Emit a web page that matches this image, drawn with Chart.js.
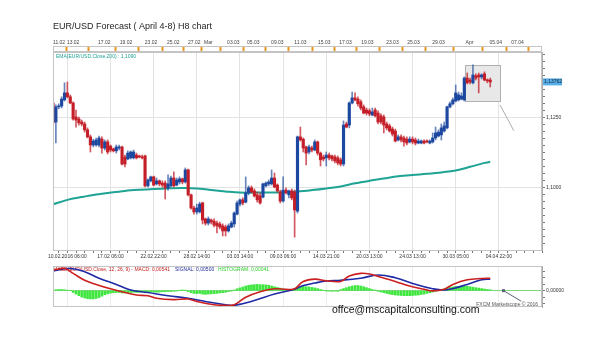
<!DOCTYPE html>
<html>
<head>
<meta charset="utf-8">
<title>EUR/USD Forecast H8</title>
<script src="https://cdn.jsdelivr.net/npm/chart.js@4.4.1/dist/chart.umd.min.js"></script>
<style>
  html, body { margin: 0; padding: 0; background: #fff; }
  body { width: 600px; height: 354px; position: relative; overflow: hidden; }
  canvas { position: absolute; left: 0; }
  #price { top: 0; }
  #macd { top: 262px; }
</style>
</head>
<body>
<canvas id="price" width="600" height="262"></canvas>
<canvas id="macd" width="600" height="92"></canvas>
<script>
// candles are numbered from firstCandle, one step per H8 bar
const firstCandle = -5;
const openPrices = [
  1.1301, 1.1233, 1.1287, 1.1290, 1.1312, 1.1337, 1.1323, 1.1301, 1.1251, 1.1244,
  1.1233, 1.1226, 1.1205, 1.1180, 1.1151, 1.1151, 1.1151, 1.1172, 1.1140, 1.1162,
  1.1147, 1.1137, 1.1130, 1.1140, 1.1144, 1.1108, 1.1101, 1.1105, 1.1105, 1.1115,
  1.1112, 1.1108, 1.1112, 1.1005, 1.1023, 1.1037, 1.1012, 1.1023, 1.1015, 1.1015,
  1.0998, 1.1005, 1.1033, 1.1008, 1.1019, 1.1030, 1.1019, 1.1062, 1.0973, 1.0926,
  1.0912, 1.0912, 1.0944, 1.0887, 1.0872, 1.0883, 1.0879, 1.0872, 1.0869, 1.0862,
  1.0858, 1.0844, 1.0858, 1.0869, 1.0904, 1.0940, 1.0955, 1.0947, 1.0980, 1.0998,
  1.0987, 1.0973, 1.0969, 1.0965, 1.1005, 1.1012, 1.1012, 1.1033, 1.1008, 1.0983,
  1.0951, 1.0990, 1.0973, 1.0987, 1.0983, 1.0915, 1.1180, 1.1172, 1.1144, 1.1126,
  1.1140, 1.1133, 1.1162, 1.1122, 1.1108, 1.1105, 1.1115, 1.1112, 1.1108, 1.1105,
  1.1098, 1.1083, 1.1226, 1.1222, 1.1301, 1.1319, 1.1315, 1.1305, 1.1287, 1.1276,
  1.1273, 1.1258, 1.1276, 1.1265, 1.1255, 1.1251, 1.1226, 1.1219, 1.1208, 1.1201,
  1.1169, 1.1180, 1.1176, 1.1172, 1.1162, 1.1172, 1.1169, 1.1158, 1.1158, 1.1165,
  1.1165, 1.1158, 1.1162, 1.1176, 1.1183, 1.1187, 1.1201, 1.1212, 1.1287, 1.1298,
  1.1308, 1.1312, 1.1315, 1.1312, 1.1390, 1.1383, 1.1373, 1.1398, 1.1401, 1.1394,
  1.1405, 1.1383, 1.1383
];
const highPrices = [
  1.1312, 1.1294, 1.1298, 1.1323, 1.1373, 1.1376, 1.1330, 1.1305, 1.1276, 1.1251,
  1.1240, 1.1233, 1.1212, 1.1187, 1.1172, 1.1176, 1.1183, 1.1180, 1.1169, 1.1169,
  1.1151, 1.1140, 1.1151, 1.1151, 1.1147, 1.1115, 1.1130, 1.1130, 1.1133, 1.1122,
  1.1115, 1.1115, 1.1115, 1.1030, 1.1040, 1.1040, 1.1033, 1.1026, 1.1023, 1.1023,
  1.1044, 1.1040, 1.1055, 1.1033, 1.1037, 1.1033, 1.1069, 1.1065, 1.0976, 1.0933,
  1.0940, 1.0947, 1.0947, 1.0890, 1.0894, 1.0887, 1.0887, 1.0879, 1.0876, 1.0869,
  1.0865, 1.0869, 1.0879, 1.0912, 1.0951, 1.0958, 1.0962, 1.1037, 1.1005, 1.1005,
  1.0994, 1.0983, 1.0980, 1.1015, 1.1019, 1.1026, 1.1062, 1.1051, 1.1012, 1.0990,
  1.1037, 1.0998, 1.0990, 1.0994, 1.0990, 1.1183, 1.1215, 1.1176, 1.1147, 1.1151,
  1.1147, 1.1169, 1.1165, 1.1126, 1.1115, 1.1126, 1.1122, 1.1115, 1.1115, 1.1112,
  1.1105, 1.1237, 1.1233, 1.1305, 1.1340, 1.1337, 1.1323, 1.1312, 1.1294, 1.1283,
  1.1280, 1.1283, 1.1283, 1.1273, 1.1262, 1.1258, 1.1233, 1.1226, 1.1215, 1.1208,
  1.1187, 1.1187, 1.1183, 1.1180, 1.1180, 1.1180, 1.1176, 1.1172, 1.1169, 1.1169,
  1.1169, 1.1169, 1.1194, 1.1215, 1.1205, 1.1226, 1.1233, 1.1290, 1.1305, 1.1319,
  1.1365, 1.1340, 1.1337, 1.1394, 1.1408, 1.1390, 1.1437, 1.1405, 1.1408, 1.1405,
  1.1412, 1.1387, 1.1390
];
const lowPrices = [
  1.1226, 1.1158, 1.1280, 1.1283, 1.1308, 1.1319, 1.1298, 1.1240, 1.1215, 1.1222,
  1.1219, 1.1197, 1.1176, 1.1126, 1.1144, 1.1147, 1.1144, 1.1122, 1.1133, 1.1119,
  1.1126, 1.1126, 1.1122, 1.1133, 1.1080, 1.1073, 1.1098, 1.1101, 1.1101, 1.1101,
  1.1105, 1.1101, 1.1001, 1.1001, 1.1019, 1.1005, 1.1008, 1.1005, 1.1001, 1.0958,
  1.0990, 1.1001, 1.1001, 1.1005, 1.1012, 1.1012, 1.1015, 1.0969, 1.0922, 1.0904,
  1.0904, 1.0908, 1.0869, 1.0865, 1.0865, 1.0869, 1.0858, 1.0837, 1.0851, 1.0826,
  1.0826, 1.0840, 1.0855, 1.0858, 1.0901, 1.0933, 1.0937, 1.0944, 1.0973, 1.0980,
  1.0965, 1.0947, 1.0940, 1.0962, 1.1001, 1.1005, 1.1008, 1.0998, 1.0983, 1.0944,
  1.0947, 1.0976, 1.0962, 1.0955, 1.0822, 1.0908, 1.1165, 1.1126, 1.1080, 1.1119,
  1.1126, 1.1130, 1.1115, 1.1076, 1.1094, 1.1076, 1.1098, 1.1094, 1.1087, 1.1080,
  1.1076, 1.1076, 1.1212, 1.1212, 1.1298, 1.1308, 1.1290, 1.1276, 1.1262, 1.1258,
  1.1255, 1.1255, 1.1251, 1.1226, 1.1226, 1.1194, 1.1205, 1.1197, 1.1183, 1.1162,
  1.1165, 1.1162, 1.1147, 1.1151, 1.1158, 1.1155, 1.1151, 1.1155, 1.1155, 1.1155,
  1.1158, 1.1155, 1.1158, 1.1169, 1.1180, 1.1169, 1.1197, 1.1208, 1.1283, 1.1294,
  1.1305, 1.1308, 1.1312, 1.1308, 1.1369, 1.1369, 1.1369, 1.1383, 1.1337, 1.1387,
  1.1380, 1.1373, 1.1358
];
const closePrices = [
  1.1230, 1.1287, 1.1290, 1.1315, 1.1337, 1.1323, 1.1301, 1.1244, 1.1240, 1.1230,
  1.1226, 1.1205, 1.1180, 1.1151, 1.1165, 1.1169, 1.1176, 1.1140, 1.1162, 1.1126,
  1.1133, 1.1130, 1.1144, 1.1144, 1.1083, 1.1083, 1.1122, 1.1126, 1.1126, 1.1105,
  1.1108, 1.1105, 1.1005, 1.1026, 1.1037, 1.1008, 1.1023, 1.1012, 1.1008, 1.0998,
  1.1012, 1.1033, 1.1005, 1.1026, 1.1030, 1.1019, 1.1062, 1.0973, 1.0926, 1.0912,
  1.0926, 1.0940, 1.0883, 1.0872, 1.0887, 1.0876, 1.0865, 1.0862, 1.0858, 1.0844,
  1.0844, 1.0862, 1.0872, 1.0908, 1.0944, 1.0955, 1.0944, 1.0980, 1.0998, 1.0983,
  1.0969, 1.0955, 1.0944, 1.1012, 1.1015, 1.1019, 1.1033, 1.1001, 1.0987, 1.0951,
  1.0990, 1.0980, 1.0987, 1.0962, 1.0919, 1.1180, 1.1169, 1.1140, 1.1122, 1.1144,
  1.1133, 1.1162, 1.1122, 1.1098, 1.1101, 1.1115, 1.1105, 1.1101, 1.1094, 1.1087,
  1.1083, 1.1222, 1.1215, 1.1301, 1.1319, 1.1312, 1.1298, 1.1283, 1.1265, 1.1265,
  1.1262, 1.1269, 1.1255, 1.1233, 1.1233, 1.1222, 1.1212, 1.1201, 1.1190, 1.1165,
  1.1180, 1.1169, 1.1162, 1.1158, 1.1172, 1.1162, 1.1158, 1.1165, 1.1165, 1.1158,
  1.1162, 1.1165, 1.1176, 1.1194, 1.1197, 1.1212, 1.1219, 1.1287, 1.1298, 1.1312,
  1.1337, 1.1330, 1.1326, 1.1390, 1.1373, 1.1376, 1.1401, 1.1390, 1.1394, 1.1401,
  1.1383, 1.1380, 1.1376
];
const lastPrice = 1.13762;

// EMA(200) read at a few candles
const emaIdx = [-5, 0, 5, 10, 15, 20, 25, 30, 35, 40, 45, 50, 55, 60, 65, 70,
  75, 80, 85, 90, 95, 100, 105, 110, 115, 120, 125, 130, 135, 140, 145, 147];
const emaValues = [1.0939, 1.0955, 1.0965, 1.0974, 1.0981, 1.0987, 1.0991, 1.0994,
  1.0996, 1.0997, 1.0996, 1.0990, 1.0985, 1.0981, 1.0981, 1.0981, 1.0982, 1.0985,
  1.0990, 1.0996, 1.1003, 1.1014, 1.1023, 1.1031, 1.1039, 1.1044, 1.1048, 1.1053,
  1.1060, 1.1073, 1.1087, 1.1091];

// MACD(12,26,9)
const macdIdx = [-5, -1, 2, 6, 10, 15, 20, 24, 28, 31, 37, 42, 45, 51, 55, 58, 62,
  67, 72, 76, 79, 82, 86, 90, 95, 98, 102, 105, 109, 114, 119, 124, 127, 131, 134,
  139, 144, 147];
const macdValues = [0.0089, 0.0096, 0.0075, 0.0045, 0.0027, 0.0008, -0.0008,
  -0.0019, -0.0022, -0.0033, -0.0039, -0.0036, -0.0047, -0.0061, -0.0064, -0.0061,
  -0.0029, -0.0005, 0.0008, 0.0006, 0.0008, 0.0040, 0.0050, 0.0043, 0.0040, 0.0064,
  0.0075, 0.0072, 0.0058, 0.0040, 0.0020, 0.0006, -0.0001, 0.0006, 0.0027, 0.0047,
  0.0053, 0.00541];
const signalIdx = [-5, 1, 6, 11, 17, 22, 28, 35, 42, 48, 55, 58, 65, 72, 79, 82,
  86, 90, 95, 102, 108, 114, 120, 127, 132, 139, 144, 147];
const signalValues = [0.0086, 0.0096, 0.0082, 0.0054, 0.0027, 0.0003, -0.0008,
  -0.0022, -0.0033, -0.0047, -0.0061, -0.0064, -0.0043, -0.0015, 0.0006, 0.0022,
  0.0033, 0.0042, 0.0045, 0.0054, 0.0068, 0.0056, 0.0031, 0.0008, 0.0004, 0.0027,
  0.0047, 0.0050];
const histogram = [
  0.0003, 0.0004, 0.0005, 0.0005, 0.0004, 0.0002, 0.0000, -0.0008, -0.0015, -0.0022,
  -0.0028, -0.0032, -0.0035, -0.0036, -0.0036, -0.0034, -0.0030, -0.0024, -0.0018, -0.0014,
  -0.0011, -0.0009, -0.0008, -0.0008, -0.0010, -0.0010, -0.0009, -0.0008, -0.0007, -0.0008,
  -0.0007, -0.0006, -0.0009, -0.0008, -0.0006, -0.0006, -0.0007, -0.0006, -0.0005, -0.0005,
  -0.0004, -0.0004, -0.0003, -0.0002, 0.0001, 0.0003, 0.0002, -0.0004, -0.0009, -0.0012,
  -0.0013, -0.0012, -0.0015, -0.0016, -0.0015, -0.0014, -0.0013, -0.0012, -0.0010, -0.0009,
  -0.0007, -0.0004, -0.0001, 0.0003, 0.0008, 0.0012, 0.0016, 0.0020, 0.0023, 0.0025,
  0.0026, 0.0027, 0.0026, 0.0026, 0.0025, 0.0023, 0.0020, 0.0017, 0.0014, 0.0011,
  0.0008, 0.0004, 0.0002, 0.0001, 0.0009, 0.0016, 0.0018, 0.0019, 0.0017, 0.0016,
  0.0014, 0.0012, 0.0009, 0.0005, 0.0002, -0.0001, -0.0002, -0.0003, -0.0002, -0.0003,
  0.0004, 0.0009, 0.0013, 0.0017, 0.0020, 0.0022, 0.0022, 0.0020, 0.0017, 0.0013,
  0.0009, 0.0005, 0.0001, -0.0003, -0.0006, -0.0009, -0.0012, -0.0015, -0.0017, -0.0019,
  -0.0020, -0.0021, -0.0022, -0.0022, -0.0022, -0.0021, -0.0020, -0.0019, -0.0017, -0.0015,
  -0.0012, -0.0009, -0.0006, -0.0003, 0.0000, 0.0003, 0.0008, 0.0011, 0.0014, 0.0016,
  0.0018, 0.0019, 0.0020, 0.0020, 0.0019, 0.0017, 0.0015, 0.0013, 0.0011, 0.0009,
  0.0007, 0.0005, 0.0004
];

// axis texts
const titleText = 'EUR/USD Forecast ( April 4-8) H8 chart';
const bottomLabels = ['10.02.2016 06:00', '17.02 06:00', '22.02 22:00', '28.02 14:00',
  '03.03 14:00', '09.03 06:00', '14.03 21:00', '20.03 13:00', '24.03 13:00',
  '30.03 05:00', '04.04 22:00'];
const topLabels = ['11.02', '13.02', '17.02', '19.02', '23.02', '25.02', '27.02', 'Mar',
  '03.03', '05.03', '09.03', '11.03', '15.03', '17.03', '19.03', '23.03', '25.03',
  '29.03', 'Apr', '05.04', '07.04'];
const topLabelIdx = [-2.9, 2.0, 12.8, 20.4, 29.1, 36.8, 44.1, 49.0, 57.7, 64.6, 73.0,
  81.0, 89.3, 96.7, 104.3, 113.0, 120.3, 129.0, 139.8, 148.9, 156.5];
const priceLabels = [1.1000, 1.1250];
const emaText = 'EMA(EUR/USD.Close,200) : 1,1090';
const macdText = ['MACD(EUR/USD.Close, 12, 26, 9) - MACD: 0,00541', 'SIGNAL: 0,00500', 'HISTOGRAM: 0,00041'];
const macdTextX = [53, 175, 218];

// highlighted area and pointer on the last candles
const boxFrom = 138.2, boxTo = 150.4, boxHigh = 1.1437, boxLow = 1.1308;
const pointerFrom = [150.4, 1.1294], pointerTo = [155.2, 1.1202];

const UP = '#1c48a0', DOWN = '#c41f29';
const UP_WICK = 'rgba(40,80,160,0.7)', DOWN_WICK = 'rgba(196,31,41,0.75)';
const EMA_COLOR = '#1ea394';
const FONT = '"Liberation Sans", Arial, sans-serif';
Chart.defaults.font.family = FONT;

const candleX = openPrices.map((o, i) => firstCandle + i);
const isUp = closePrices.map((c, i) => c >= openPrices[i]);
const X_MIN = -5, X_MAX = 165;
const same = (a, b) => Math.abs(a - b) < 1e-7;

const priceOverlay = {
  id: 'priceOverlay',
  beforeDatasetsDraw(chart) {
    const {ctx, scales: {x, y}} = chart;
    const x1 = x.getPixelForValue(boxFrom), x2 = x.getPixelForValue(boxTo);
    const y1 = y.getPixelForValue(boxHigh), y2 = y.getPixelForValue(boxLow);
    ctx.save();
    ctx.fillStyle = '#e8e8e8';
    ctx.fillRect(x1, y1, x2 - x1, y2 - y1);
    ctx.strokeStyle = '#b0b0b0';
    ctx.lineWidth = 1;
    ctx.strokeRect(Math.round(x1) + 0.5, Math.round(y1) + 0.5, Math.round(x2 - x1), Math.round(y2 - y1));
    ctx.restore();
  },
  afterDatasetsDraw(chart) {
    const {ctx, chartArea: a, scales: {x, y}} = chart;
    ctx.save();
    ctx.strokeStyle = '#999';
    ctx.lineWidth = 0.8;
    ctx.beginPath();
    ctx.moveTo(x.getPixelForValue(pointerFrom[0]), y.getPixelForValue(pointerFrom[1]));
    ctx.lineTo(x.getPixelForValue(pointerTo[0]), y.getPixelForValue(pointerTo[1]));
    ctx.stroke();
    ctx.fillStyle = EMA_COLOR;
    ctx.font = '5px ' + FONT;
    ctx.textBaseline = 'middle';
    ctx.fillText(emaText, a.left + 3, a.top + 5);
    ctx.restore();
  },
  afterDraw(chart) {
    const {ctx, chartArea: a, scales: {y}} = chart;
    ctx.save();
    ctx.strokeStyle = '#c4c4c4';
    ctx.lineWidth = 1;
    ctx.strokeRect(a.left + 0.5, a.top + 0.5, a.width - 1, a.height);
    ctx.strokeRect(a.left + 0.5, a.top - 5.5, a.width - 1, 5);
    const py = y.getPixelForValue(lastPrice);
    ctx.fillStyle = '#58aee6';
    ctx.fillRect(a.right + 1, py - 3.5, 19, 7);
    ctx.fillStyle = '#10243a';
    ctx.font = '5px ' + FONT;
    ctx.textBaseline = 'middle';
    ctx.fillText(lastPrice.toFixed(5).replace('.', ','), a.right + 2, py);
    ctx.restore();
  }
};

new Chart(document.getElementById('price'), {
  type: 'bar',
  data: {
    datasets: [
      {
        label: 'body',
        data: candleX.map((x, i) => ({x: x, y: [openPrices[i], closePrices[i]]})),
        backgroundColor: isUp.map(u => u ? UP : DOWN),
        barThickness: 2.5,
        minBarLength: 1,
        grouped: false
      },
      {
        label: 'wick',
        data: candleX.map((x, i) => ({x: x, y: [lowPrices[i], highPrices[i]]})),
        backgroundColor: isUp.map(u => u ? UP_WICK : DOWN_WICK),
        barThickness: 1,
        grouped: false
      },
      {
        type: 'line',
        label: 'EMA',
        data: emaIdx.map((x, i) => ({x: x, y: emaValues[i]})),
        borderColor: EMA_COLOR,
        borderWidth: 2,
        pointRadius: 0,
        tension: 0.35
      }
    ]
  },
  options: {
    responsive: false,
    animation: false,
    events: [],
    layout: {padding: {left: 53, right: 0, top: 0, bottom: 0}},
    plugins: {
      legend: {display: false},
      tooltip: {enabled: false},
      title: {
        display: true, text: titleText, align: 'start', color: '#1e1e1e',
        font: {size: 9, weight: 'normal', family: FONT},
        padding: {top: 21, bottom: 0}
      }
    },
    scales: {
      x: {
        type: 'linear', position: 'bottom', min: X_MIN, max: X_MAX, offset: false,
        afterBuildTicks: s => {
          const t = [];
          for (let v = -3; v <= X_MAX; v += 3) t.push({value: v});
          s.ticks = t;
        },
        afterFit: s => { s.height = 12; },
        ticks: {
          autoSkip: false, maxRotation: 0, padding: 1, color: '#333', font: {size: 5},
          callback: v => (v >= 0 && v % 15 === 0 && bottomLabels[v / 15]) ? bottomLabels[v / 15] : ''
        },
        grid: {
          offset: false,
          color: c => (c.tick && c.tick.value % 15 === 0) ? '#e3e3e3' : 'rgba(0,0,0,0)',
          tickColor: '#777', tickLength: 3
        },
        border: {color: '#aaa'}
      },
      xTop: {
        type: 'linear', position: 'top', min: X_MIN, max: X_MAX, offset: false,
        afterBuildTicks: s => { s.ticks = topLabelIdx.map(v => ({value: v})); },
        afterFit: s => { s.height = 20.2; },
        ticks: {
          autoSkip: false, maxRotation: 0, padding: 1, color: '#444', font: {size: 5},
          callback: (v, i) => topLabels[i]
        },
        grid: {drawOnChartArea: false, tickColor: '#e8961e', tickWidth: 2, tickLength: 5},
        border: {color: '#bbb'}
      },
      y: {
        position: 'right', min: 1.0776, max: 1.1483,
        afterBuildTicks: s => {
          const t = [];
          for (let k = 0; k <= 27; k++) t.push({value: 1.08 + k * 0.0025});
          s.ticks = t;
        },
        afterFit: s => { s.width = 58; },
        ticks: {
          autoSkip: false, padding: 1, color: '#333', font: {size: 5},
          callback: v => priceLabels.some(p => same(p, v)) ? v.toFixed(4).replace('.', ',') : ''
        },
        grid: {
          color: c => (c.tick && priceLabels.some(p => same(p, c.tick.value))) ? '#e3e3e3' : 'rgba(0,0,0,0)',
          tickColor: '#777', tickLength: 3
        },
        border: {color: '#aaa'}
      }
    }
  },
  plugins: [priceOverlay]
});

// MACD panel
const markerIdx = 151.6, markerEnd = [157.8, -0.0046];
const macdOverlay = {
  id: 'macdOverlay',
  beforeDatasetsDraw(chart) {
    const {ctx, chartArea: a} = chart;
    ctx.save();
    ctx.font = '5px ' + FONT;
    ctx.textBaseline = 'middle';
    const ty = a.top + 4;
    const colors = ['#c41e1e', '#1f2a9c', '#2ccf2c'];
    macdText.forEach((t, i) => {
      ctx.fillStyle = colors[i];
      ctx.fillText(t, macdTextX[i], ty);
    });
    ctx.restore();
  },
  afterDraw(chart) {
    const {ctx, chartArea: a, scales: {x, y}} = chart;
    ctx.save();
    ctx.strokeStyle = '#c4c4c4';
    ctx.lineWidth = 1;
    ctx.strokeRect(a.left + 0.5, a.top + 0.5, a.width - 1, a.height - 1);
    const mx = x.getPixelForValue(markerIdx), my = y.getPixelForValue(0);
    ctx.strokeStyle = '#5b6478';
    ctx.beginPath();
    ctx.moveTo(mx, my);
    ctx.lineTo(x.getPixelForValue(markerEnd[0]), y.getPixelForValue(markerEnd[1]));
    ctx.stroke();
    ctx.fillStyle = '#5b6478';
    ctx.fillRect(mx - 1.5, my - 1.5, 3, 3);
    ctx.fillStyle = '#555';
    ctx.font = '5px ' + FONT;
    ctx.textAlign = 'right';
    ctx.textBaseline = 'middle';
    ctx.fillText('FXCM Marketscope \u00a9 2016', a.right - 4, a.bottom - 2);
    ctx.textAlign = 'left';
    ctx.textBaseline = 'alphabetic';
    ctx.fillStyle = '#111';
    ctx.font = '10.5px ' + FONT;
    ctx.fillText('offce@mscapitalconsulting.com', 332, 51);
    ctx.restore();
  }
};

new Chart(document.getElementById('macd'), {
  type: 'bar',
  data: {
    datasets: [
      {
        type: 'line', label: 'MACD',
        data: macdIdx.map((x, i) => ({x: x, y: macdValues[i]})),
        borderColor: '#cc1f1f', borderWidth: 1.6, pointRadius: 0, tension: 0.4
      },
      {
        type: 'line', label: 'SIGNAL',
        data: signalIdx.map((x, i) => ({x: x, y: signalValues[i]})),
        borderColor: '#1f2aa6', borderWidth: 1.6, pointRadius: 0, tension: 0.4
      },
      {
        label: 'HISTOGRAM',
        data: histogram.map((v, i) => ({x: firstCandle + i, y: v})),
        backgroundColor: '#3ee63e',
        barThickness: 2,
        grouped: false
      }
    ]
  },
  options: {
    responsive: false,
    animation: false,
    events: [],
    layout: {padding: {left: 53, right: 0, top: 2, bottom: 47}},
    plugins: {legend: {display: false}, tooltip: {enabled: false}},
    scales: {
      x: {
        type: 'linear', min: X_MIN, max: X_MAX, offset: false,
        afterBuildTicks: s => {
          const t = [];
          for (let v = 0; v <= X_MAX; v += 15) t.push({value: v});
          s.ticks = t;
        },
        afterFit: s => { s.height = 0; },
        ticks: {display: false},
        grid: {offset: false, color: '#ececec', drawTicks: false},
        border: {display: false}
      },
      y: {
        position: 'right', min: -0.0071, max: 0.0107,
        afterBuildTicks: s => {
          const t = [];
          for (let k = -2; k <= 3; k++) t.push({value: k * 0.0028});
          s.ticks = t;
        },
        afterFit: s => { s.width = 58; },
        ticks: {
          autoSkip: false, padding: 1, color: '#333', font: {size: 5},
          callback: v => same(v, 0) ? '0,00000' : ''
        },
        grid: {
          color: c => (c.tick && same(c.tick.value, 0)) ? '#7fd67f' : 'rgba(0,0,0,0)',
          tickColor: '#777', tickLength: 3
        },
        border: {color: '#aaa'}
      }
    }
  },
  plugins: [macdOverlay]
});
</script>
</body>
</html>
